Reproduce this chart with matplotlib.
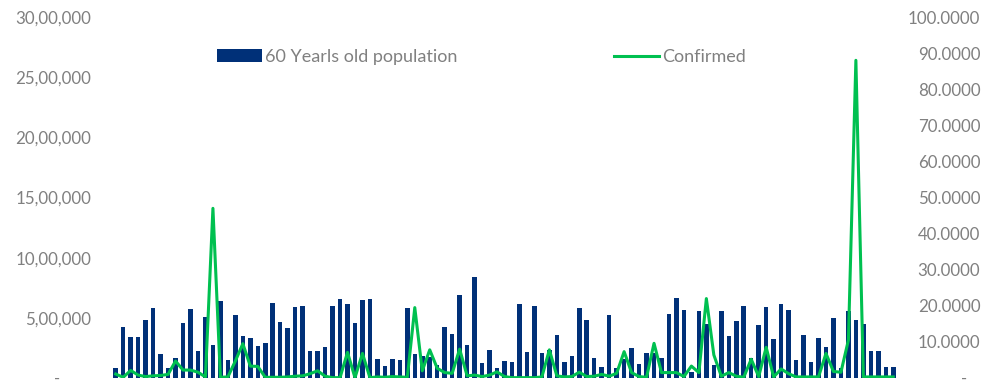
import matplotlib
matplotlib.use("Agg")
import matplotlib.pyplot as plt
from matplotlib.ticker import FuncFormatter, FixedLocator
from matplotlib.lines import Line2D
from matplotlib.patches import Patch
import numpy as np

population = [
    85, 421, 343, 343, 480, 579, 197, 83, 164, 455,
    571, 227, 504, 277, 643, 147, 524, 352, 335, 263,
    294, 623, 465, 418, 593, 601, 222, 222, 258, 598,
    659, 612, 455, 651, 657, 155, 97, 161, 150, 582,
    197, 185, 178, 105, 424, 368, 692, 274, 837, 125,
    233, 86, 144, 133, 612, 219, 598, 208, 233, 355,
    130, 180, 585, 480, 166, 91, 521, 81, 155, 252,
    114, 205, 205, 164, 535, 668, 568, 50, 560, 449,
    105, 560, 352, 476, 598, 169, 440, 588, 322, 615,
    565, 147, 360, 136, 330, 260, 501, 80, 560, 482,
    451, 227, 227, 94, 94,
]
population = [v * 1000 for v in population]

confirmed = [
    1.1, 0.2, 2.1, 0.8, 0.4, 0.6, 0.7, 1.0, 4.7, 2.2,
    2.2, 1.6, 0.3, 47.0, 0.2, 0.3, 4.7, 9.5, 3.3, 3.2,
    0.2, 0.2, 0.2, 0.3, 0.5, 0.6, 1.2, 2.0, 0.5, 0.1,
    0.1, 7.1, 0.1, 6.8, 0.1, 0.3, 0.2, 0.4, 0.3, 0.2,
    19.5, 2.0, 7.8, 2.7, 1.5, 1.3, 8.0, 0.6, 0.8, 0.4,
    0.8, 1.7, 0.4, 0.1, 0.1, 0.1, 0.1, 0.3, 7.8, 0.6,
    0.3, 0.4, 1.6, 0.4, 0.5, 1.0, 0.5, 1.3, 7.3, 1.5,
    0.4, 0.2, 9.6, 1.5, 1.5, 1.5, 0.4, 3.3, 1.5, 22.0,
    6.4, 0.5, 1.5, 0.5, 0.2, 5.2, 0.4, 8.5, 0.3, 2.5,
    1.2, 0.3, 0.3, 0.3, 0.3, 6.8, 1.8, 1.6, 10.5, 88.0,
    0.3, 0.3, 0.3, 0.3, 0.3,
]

left_ticks = [0, 500000, 1000000, 1500000, 2000000, 2500000, 3000000]
right_ticks = [0, 10, 20, 30, 40, 50, 60, 70, 80, 90, 100]

BAR_COLOR = "#003078"
LINE_COLOR = "#00C050"
TEXT_COLOR = "#808080"
FONT = ["Lato", "DejaVu Sans"]
TICK_FS = 12.2
LEG_FS = 13

plt.rcParams["font.family"] = FONT


def indian(v, pos=None):
    v = int(round(v))
    if v == 0:
        return "-" + " " * 7
    s = str(v)
    last3 = s[-3:]
    rest = s[:-3]
    groups = []
    while len(rest) > 2:
        groups.insert(0, rest[-2:])
        rest = rest[:-2]
    if rest:
        groups.insert(0, rest)
    return ",".join(groups + [last3])


def right_fmt(v, pos=None):
    if v == 0:
        return "-   "
    return f"{v:.4f}"


fig = plt.figure(figsize=(9.98, 3.86), dpi=100)
ax = fig.add_axes([112 / 998, 8 / 386, (897 - 112) / 998, (378 - 17) / 386])
ax2 = ax.twinx()

x = np.arange(len(population))
ax.bar(x, population, width=0.6, color=BAR_COLOR, zorder=2)
ax2.plot(x, confirmed, color=LINE_COLOR, lw=2.2, zorder=3)

ax.set_xlim(-0.5, len(population) - 0.5)
ax.set_ylim(0, 3000000)
ax2.set_ylim(0, 100)

ax.yaxis.set_major_locator(FixedLocator(left_ticks))
ax.yaxis.set_major_formatter(FuncFormatter(indian))
ax2.yaxis.set_major_locator(FixedLocator(right_ticks))
ax2.yaxis.set_major_formatter(FuncFormatter(right_fmt))

ax.set_xticks([])
ax.tick_params(axis="y", length=0, pad=15, labelsize=TICK_FS, labelcolor=TEXT_COLOR)
ax2.tick_params(axis="y", length=0, pad=60, labelsize=TICK_FS, labelcolor=TEXT_COLOR)
for lab in ax2.get_yticklabels():
    lab.set_horizontalalignment("right")

for a in (ax, ax2):
    for sp in a.spines.values():
        sp.set_visible(False)

handles = [
    Patch(facecolor=BAR_COLOR, edgecolor="none", label="60 Yearls old population"),
    Line2D([], [], color=LINE_COLOR, lw=2.2, label="Confirmed"),
]
leg = fig.legend(
    handles=handles,
    loc="center left",
    bbox_to_anchor=(217 / 998, 1 - 57 / 386),
    bbox_transform=fig.transFigure,
    ncol=2,
    frameon=False,
    fontsize=LEG_FS,
    handlelength=2.5,
    handleheight=0.68,
    handletextpad=0.17,
    columnspacing=8.67,
    borderpad=0,
    borderaxespad=0,
)
for t in leg.get_texts():
    t.set_color(TEXT_COLOR)

fig.savefig("out.png", dpi=100)
